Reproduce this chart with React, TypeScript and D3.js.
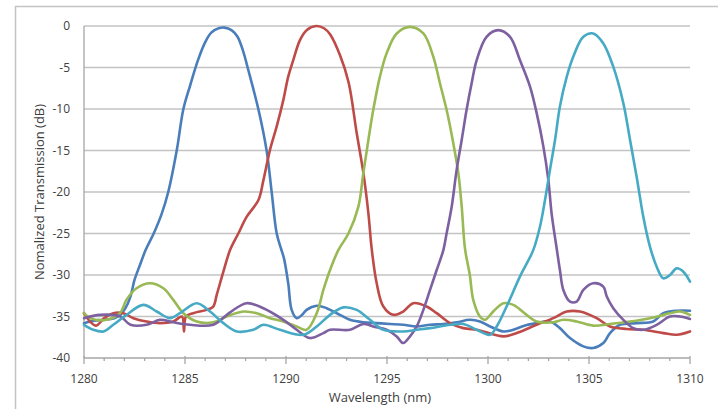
import React from "react";
import * as d3 from "d3";

const xTicks = [1280, 1285, 1290, 1295, 1300, 1305, 1310];
const yTicks = [0, -5, -10, -15, -20, -25, -30, -35, -40];
const xTitle = "Wavelength (nm)";
const yTitle = "Nomalized Transmission (dB)";

const blue: [number, number][] = [
  [1280, -35.8], [1280.5, -35.5], [1281, -35.4], [1281.5, -35.2], [1281.8, -34.8], [1282.05, -34.0],
  [1282.3, -32.6], [1282.5, -30.6], [1282.77, -28.8], [1283.05, -27.0], [1283.45, -25.0], [1283.85, -22.6],
  [1284.17, -20], [1284.59, -15], [1284.92, -10], [1285.25, -7.2], [1285.63, -4.2], [1285.99, -2.0],
  [1286.3, -0.8], [1286.7, -0.25], [1286.95, -0.2], [1287.3, -0.5], [1287.6, -1.3], [1287.9, -3.2],
  [1288.1, -5], [1288.63, -10], [1289.04, -15], [1289.29, -20], [1289.54, -25], [1289.75, -26.8],
  [1289.9, -28], [1290.11, -31], [1290.28, -34.2], [1290.53, -35.2], [1290.8, -34.8], [1291.02, -34.2],
  [1291.52, -33.7], [1292.01, -34.0], [1292.67, -34.8], [1293.17, -35.4], [1293.83, -35.7], [1294.49, -35.8],
  [1295.15, -35.9], [1295.8, -36.0], [1296.47, -36.2], [1297.13, -36.0], [1297.79, -35.9], [1298.45, -35.7],
  [1299.1, -35.4], [1299.6, -35.6], [1300.1, -36.2], [1300.76, -36.8], [1301.25, -36.6], [1301.8, -36.1],
  [1302.4, -35.8], [1303.07, -35.6], [1303.56, -36.4], [1304.06, -37.6], [1304.72, -38.6], [1305.21, -38.8],
  [1305.71, -38.2], [1306.04, -37.0], [1306.53, -36.0], [1307.36, -35.8], [1308.18, -35.6], [1308.68, -34.6],
  [1309.34, -34.3], [1310, -34.3],
];

const red: [number, number][] = [
  [1280, -34.6], [1280.3, -35.6], [1280.6, -36.1], [1281, -35.2], [1281.45, -34.6], [1281.95, -34.6],
  [1282.44, -35.2], [1283.1, -35.6], [1283.76, -35.8], [1284.42, -35.6], [1284.85, -35.0], [1284.95, -36.8],
  [1285.05, -35.0], [1285.41, -34.6], [1286.07, -34.2], [1286.4, -33.8], [1286.57, -32.4], [1286.9, -29.6],
  [1287.23, -27], [1287.64, -25], [1288.05, -23], [1288.63, -21], [1288.88, -18.6], [1289.21, -14.9],
  [1289.54, -12.1], [1289.87, -8.9], [1290.11, -6.1], [1290.36, -4.1], [1290.69, -1.7], [1291.02, -0.5],
  [1291.5, 0.0], [1291.9, -0.3], [1292.18, -1.0], [1292.67, -3.5], [1293.1, -6.8], [1293.5, -12.9],
  [1293.83, -17.7], [1294.08, -22.6], [1294.24, -26.8], [1294.49, -31], [1294.82, -33.8], [1295.31, -34.8],
  [1295.8, -34.4], [1296.3, -33.4], [1296.96, -33.8], [1297.46, -34.6], [1298.12, -35.8], [1298.78, -36.4],
  [1299.44, -36.6], [1299.77, -36.8], [1300.76, -37.4], [1301.42, -37.0], [1302.4, -36.0], [1303.23, -35.2],
  [1303.9, -34.4], [1304.55, -34.4], [1305.38, -35.2], [1306.04, -36.2], [1306.86, -36.5], [1307.69, -36.6],
  [1308.68, -37.0], [1309.34, -37.2], [1310, -36.8],
];

const green: [number, number][] = [
  [1280, -34.6], [1280.3, -35.2], [1281.12, -35.4], [1281.78, -34.6], [1282.1, -33.0], [1282.6, -31.6],
  [1283.27, -31.0], [1283.93, -31.6], [1284.42, -33.0], [1284.92, -34.6], [1285.58, -35.6], [1286.4, -35.7],
  [1287.06, -35.0], [1287.89, -34.4], [1288.55, -34.6], [1289.21, -35.2], [1289.87, -35.6], [1290.53, -36.2],
  [1291.02, -36.6], [1291.52, -34.6], [1291.85, -31.8], [1292.18, -29.4], [1292.59, -27], [1293.09, -25],
  [1293.58, -21.8], [1293.83, -17.7], [1294.08, -13.7], [1294.32, -10.1], [1294.65, -6.1], [1294.98, -3.3],
  [1295.48, -0.9], [1296.14, -0.1], [1296.8, -0.9], [1297.29, -3.7], [1297.62, -6.9], [1297.95, -10.1],
  [1298.28, -14.1], [1298.53, -17.7], [1298.7, -21.8], [1298.86, -26.8], [1299.1, -30], [1299.27, -33],
  [1299.6, -35], [1299.85, -35.4], [1300.26, -34.4], [1300.76, -33.4], [1301.25, -33.6], [1301.91, -34.8],
  [1302.4, -35.6], [1303.23, -35.7], [1303.73, -35.4], [1304.39, -35.6], [1305.21, -36.1], [1306.04, -35.9],
  [1307.03, -35.6], [1308.02, -35.2], [1309.01, -34.6], [1309.5, -34.4], [1310, -34.8],
];

const purple: [number, number][] = [
  [1280, -35.2], [1280.8, -34.8], [1281.8, -35.0], [1282.3, -36.0], [1283.1, -36.0], [1283.76, -35.4],
  [1284.42, -35.7], [1285.25, -36.0], [1286.4, -36.0], [1287.23, -34.5], [1288.05, -33.4], [1288.88, -34.0],
  [1289.87, -35.4], [1290.53, -36.6], [1291.19, -37.6], [1291.85, -37.0], [1292.18, -36.6], [1293.17, -36.6],
  [1293.83, -35.9], [1294.32, -36.2], [1294.98, -36.6], [1295.48, -37.4], [1295.8, -38.2], [1296.14, -37.4],
  [1296.47, -36.2], [1296.8, -34.2], [1297.13, -31.8], [1297.46, -29.4], [1297.79, -27], [1297.95, -25],
  [1298.2, -21.8], [1298.45, -17.3], [1298.7, -13.7], [1298.94, -10.1], [1299.19, -6.9], [1299.44, -4.1],
  [1299.93, -1.3], [1300.51, -0.5], [1301.09, -1.3], [1301.58, -4.1], [1302.08, -7.3], [1302.41, -10.5],
  [1302.74, -14.5], [1302.99, -18.6], [1303.15, -22.6], [1303.4, -26.8], [1303.56, -29.4], [1303.73, -31.8],
  [1304.06, -33.2], [1304.39, -33.2], [1304.72, -31.8], [1305.21, -31.0], [1305.71, -31.4], [1305.88, -32.6],
  [1306.2, -34.0], [1306.7, -35.4], [1307.2, -36.4], [1307.69, -36.6], [1308.35, -36.0], [1309.01, -35.0],
  [1309.5, -35.0], [1310, -35.3],
];

const cyan: [number, number][] = [
  [1280, -36.0], [1280.46, -36.6], [1280.96, -36.8], [1281.45, -36.0], [1282.1, -34.8], [1282.94, -33.6],
  [1283.6, -34.4], [1284.26, -35.2], [1284.75, -34.6], [1285.58, -33.4], [1286.24, -34.4], [1286.9, -35.8],
  [1287.56, -36.8], [1288.38, -36.6], [1288.88, -36.0], [1289.7, -36.6], [1290.86, -37.2], [1291.52, -36.2],
  [1292.18, -34.8], [1292.84, -33.9], [1293.5, -34.2], [1294.16, -35.4], [1294.82, -36.6], [1295.8, -36.8],
  [1296.47, -36.6], [1297.13, -36.4], [1298.12, -36.0], [1298.78, -35.9], [1299.44, -36.6], [1300.1, -37.2],
  [1300.43, -36.2], [1300.92, -33.8], [1301.58, -30.2], [1302.24, -27], [1302.57, -24.2], [1302.82, -21],
  [1303.07, -17.3], [1303.32, -13.7], [1303.56, -9.7], [1303.9, -6.1], [1304.22, -3.7], [1304.72, -1.3],
  [1305.21, -0.9], [1305.71, -2.1], [1306.2, -4.9], [1306.7, -9.3], [1307.03, -13.7], [1307.36, -18.2],
  [1307.69, -23], [1308.02, -26.6], [1308.35, -29], [1308.68, -30.4], [1309.01, -30], [1309.34, -29.2],
  [1309.67, -29.6], [1310, -30.8],
];

const seriesList = [blue, red, green, purple, cyan];
const seriesColors = ["#4A7EBB", "#BE4B48", "#98B954", "#7D60A0", "#46AAC5"];

export default function App() {
  const W = 718, H = 409;
  const left = 84, right = 690, top = 26, bottom = 358;
  const x = d3.scaleLinear().domain([1280, 1310]).range([left, right]);
  const y = d3.scaleLinear().domain([-40, 0]).range([bottom, top]);
  const line = d3
    .line<[number, number]>()
    .x((d) => x(d[0]))
    .y((d) => y(d[1]))
    .curve(d3.curveCatmullRom.alpha(0.5));
  const minor = d3.range(1280, 1311, 1);
  const font = "'Open Sans', 'Liberation Sans', sans-serif";
  return (
    <svg
      width={W}
      height={H}
      style={{ position: "absolute", left: 0, top: 0, background: "#fff" }}
    >
      <rect x={15.5} y={6.5} width={900} height={600} fill="#fff" stroke="#c4c4c4" strokeWidth={1.5} />
      {yTicks.map((t) =>
        t === -40 ? null : (
          <line key={"g" + t} x1={left} x2={right} y1={y(t)} y2={y(t)} stroke="#c3c3c3" strokeWidth={1.6} />
        )
      )}
      <line x1={left} x2={left} y1={top} y2={bottom} stroke="#a6a6a6" strokeWidth={1.3} />
      <line x1={left} x2={right} y1={bottom} y2={bottom} stroke="#a6a6a6" strokeWidth={1.3} />
      {minor.map((t) => {
        const major = t % 5 === 0;
        return (
          <line
            key={"t" + t}
            x1={x(t)}
            x2={x(t)}
            y1={major ? bottom - 2 : bottom}
            y2={major ? bottom + 6 : bottom + 3}
            stroke="#a6a6a6"
            strokeWidth={1.3}
          />
        );
      })}
      {seriesList.map((s, i) => (
        <path
          key={"s" + i}
          d={line(s) || ""}
          fill="none"
          stroke={seriesColors[i]}
          strokeWidth={2.6}
          strokeLinejoin="round"
          strokeLinecap="round"
        />
      ))}
      {yTicks.map((t) => (
        <text
          key={"yl" + t}
          x={70}
          y={y(t)}
          dy="0.35em"
          textAnchor="end"
          fontFamily={font}
          fontSize={12}
          fill="#404040"
        >
          {t}
        </text>
      ))}
      {xTicks.map((t) => (
        <text
          key={"xl" + t}
          x={x(t)}
          y={383}
          textAnchor="middle"
          fontFamily={font}
          fontSize={12}
          fill="#404040"
        >
          {t}
        </text>
      ))}
      <text
        x={380}
        y={402}
        textAnchor="middle"
        fontFamily={font}
        fontSize={13}
        fill="#404040"
      >
        {xTitle}
      </text>
      <text
        transform={`translate(44, ${(top + bottom) / 2}) rotate(-90)`}
        textAnchor="middle"
        fontFamily={font}
        fontSize={13}
        fill="#404040"
      >
        {yTitle}
      </text>
    </svg>
  );
}
